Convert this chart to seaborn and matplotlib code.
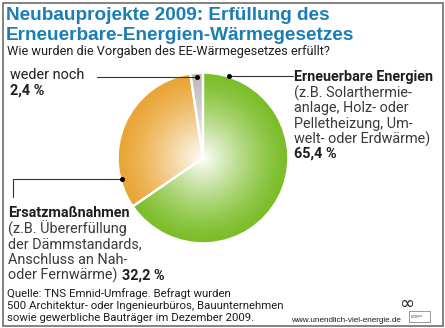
import numpy as np
import matplotlib
matplotlib.use("Agg")
import matplotlib.pyplot as plt
import matplotlib.colors as mcolors
from matplotlib.patches import Rectangle
import seaborn as sns

# ---- data ----
categories = ["weder noch", "Ersatzmaßnahmen", "Erneuerbare Energien"]
shares = [2.4, 32.2, 65.4]
share_labels = ["2,4 %", "32,2 %", "65,4 %"]
slice_colors = ["#bcbcbc", "#e9a535", "#7bbd28"]

title_lines = ["Neubauprojekte 2009: Erfüllung des", "Erneuerbare-Energien-Wärmegesetzes"]
subtitle = "Wie wurden die Vorgaben des EE-Wärmegesetzes erfüllt?"
ee_desc = ["(z.B. Solarthermie-", "anlage, Holz- oder", "Pelletheizung, Um-", "welt- oder Erdwärme)"]
ersatz_desc = ["(z.B. Übererfüllung", "der Dämmstandards,", "Anschluss an Nah-", "oder Fernwärme)"]
source_lines = ["Quelle: TNS Emnid-Umfrage. Befragt wurden",
                "500 Architektur- oder Ingenieurbüros, Bauunternehmen",
                "sowie gewerbliche Bauträger im Dezember 2009."]
url = "www.unendlich-viel-energie.de"

sns.set_theme(style="white")
plt.rcParams["font.family"] = ["Roboto", "DejaVu Sans"]

W, H = 445, 328
fig = plt.figure(figsize=(W / 100, H / 100), dpi=100)
fig.patch.set_facecolor("white")

# pie geometry (pixels)
cx, cy, R = 203, 158, 87
ax = fig.add_axes([(cx - R) / W, (H - cy - R) / H, 2 * R / W, 2 * R / H])

# radial gradient via layered pies
n_layers = 40
for i in range(n_layers):
    r = 1.0 - i / n_layers
    w = (1 - r) ** 1.3  # white fraction
    cols = []
    for c in slice_colors:
        rgb = np.array(mcolors.to_rgb(c))
        cols.append(tuple(rgb * (1 - w) + np.ones(3) * w))
    ax.pie(shares, colors=cols, startangle=90, counterclock=True,
           radius=r, wedgeprops=dict(linewidth=0, edgecolor="none"))
# white separators
ax.pie(shares, colors=["none"] * 3, startangle=90, counterclock=True, radius=1.0,
       wedgeprops=dict(linewidth=1.6, edgecolor="white", fill=False))
ax.set_xlim(-1.02, 1.02)
ax.set_ylim(-1.02, 1.02)
ax.set_aspect("equal")
ax.axis("off")

# overlay axes in pixel coordinates
ov = fig.add_axes([0, 0, 1, 1], zorder=5)
ov.set_xlim(0, W)
ov.set_ylim(H, 0)
ov.axis("off")
ov.patch.set_alpha(0)

ov.add_patch(Rectangle((2.5, 2.5), W - 5, H - 5, fill=False, edgecolor="#6e6e6e", lw=1.2))

blue = "#1b7db5"
dark = "#1e1e1e"
for k, line in enumerate(title_lines):
    ov.text(6, 16 + 19 * k, line, fontsize=13.7, fontweight="bold", color=blue,
            family=["Liberation Sans", "DejaVu Sans"], va="center", ha="left")
ov.text(7, 51, subtitle, fontsize=9.2, color=dark, va="center", ha="left")

def pix(angle_deg, rr):
    a = np.deg2rad(angle_deg)
    return cx + R * rr * np.cos(a), cy - R * rr * np.sin(a)

cum = np.cumsum([0] + shares)
angles = [90 + 360 * (cum[i] + cum[i + 1]) / 200 for i in range(3)]

fs = 10.4
lc = "#333333"
# weder noch
gx, gy = pix(angles[0], 0.93)
ov.plot([97, gx], [gy, gy], color=lc, lw=0.8)
ov.plot([gx], [gy], "o", color="black", ms=2.6)
ov.text(10, 75, categories[0], fontsize=fs, color=dark, va="center")
ov.text(10, 91, share_labels[0], fontsize=fs, color=dark, fontweight="bold", va="center")

# Erneuerbare Energien
ex, ey = pix(72, 0.985)
ov.plot([ex, 293], [ey, ey], color=lc, lw=0.8)
ov.plot([ex], [ey], "o", color="black", ms=2.6)
ov.text(294, 77, categories[2], fontsize=fs, color=dark, fontweight="bold", va="center")
for k, line in enumerate(ee_desc):
    ov.text(294, 93 + 15.3 * k, line, fontsize=fs, color="#3a3a3a", va="center")
ov.text(294, 154, share_labels[2], fontsize=fs, color=dark, fontweight="bold", va="center")

# Ersatzmaßnahmen
ox, oy = pix(194.5, 0.96)
ov.plot([ox, 13, 13], [oy, oy, 197], color=lc, lw=0.8)
ov.plot([ox], [oy], "o", color="black", ms=2.6)
ov.text(8, 213, categories[1], fontsize=fs, color=dark, fontweight="bold", va="center")
for k, line in enumerate(ersatz_desc):
    t = ov.text(8, 229 + 15.5 * k, line, fontsize=fs, color="#3a3a3a", va="center")
fig.canvas.draw()
bb = t.get_window_extent()
x_end = bb.x1  # pixels (dpi=100, fig px == data px)
ov.text(x_end + 4, 229 + 15.5 * 3, share_labels[1], fontsize=fs, color=dark,
        fontweight="bold", va="center")

# source
for k, line in enumerate(source_lines):
    ov.text(7, 294 + 11.9 * k, line, fontsize=8.2, color=dark, va="center")
ov.text(291, 320, url, fontsize=5.9, color=dark, va="center",
        family=["Liberation Sans", "DejaVu Sans"])
ov.text(407, 304, "∞", fontsize=13, color="#222222", va="center", ha="center",
        family=["DejaVu Sans"])
ov.add_patch(Rectangle((409, 311), 21, 11, fill=False, edgecolor="#888888", lw=0.6))
ov.text(411, 316.5, "Agentur für\nErneuerbare\nEnergien", fontsize=1.6, color="#555555",
        va="center", ha="left", linespacing=1.1)

fig.savefig("out.png", dpi=100)
